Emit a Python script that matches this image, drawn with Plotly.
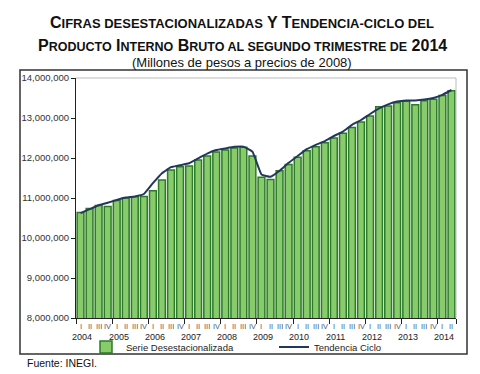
import plotly.graph_objects as go

years = ["2004", "2005", "2006", "2007", "2008", "2009", "2010", "2011", "2012", "2013", "2014"]
quarter_names = ["I", "II", "III", "IV"]
n_quarters = 42  # 2004 Q1 .. 2014 Q2

# Serie desestacionalizada (pesos de 2008)
serie = [
    10640000, 10740000, 10810000, 10790000,
    10940000, 11000000, 11030000, 11040000,
    11180000, 11450000, 11700000, 11780000,
    11800000, 11950000, 12050000, 12150000,
    12200000, 12250000, 12270000, 12050000,
    11520000, 11460000, 11680000, 11840000,
    12020000, 12180000, 12280000, 12380000,
    12500000, 12620000, 12760000, 12900000,
    13050000, 13280000, 13300000, 13380000,
    13420000, 13330000, 13430000, 13470000,
    13560000, 13680000,
]
# Tendencia-ciclo
tendencia = [
    10620000, 10720000, 10820000, 10880000,
    10950000, 11010000, 11040000, 11100000,
    11370000, 11620000, 11770000, 11820000,
    11870000, 11990000, 12110000, 12200000,
    12240000, 12280000, 12285000, 12160000,
    11590000, 11530000, 11680000, 11880000,
    12050000, 12220000, 12330000, 12420000,
    12550000, 12660000, 12830000, 12950000,
    13100000, 13240000, 13340000, 13410000,
    13440000, 13440000, 13460000, 13500000,
    13580000, 13700000,
]

x = list(range(n_quarters))
q_labels = [quarter_names[i % 4] for i in x]

fig = go.Figure()
fig.add_trace(go.Bar(
    x=x, y=serie, name="Serie Desestacionalizada",
    marker=dict(color="#88cb6a", line=dict(color="#2c7a2a", width=1.5)),
    legend="legend",
))
fig.add_trace(go.Scatter(
    x=x, y=tendencia, name="Tendencia Ciclo", mode="lines",
    line=dict(color="#22385a", width=2, shape="spline", smoothing=0.35),
    legend="legend2",
))

# plot area: x 76..456, y 78..318
L, R, T, B = 76, 456, 78, 318
W, H = R - L, B - T

def px(X):
    return (X - L) / W

def py(Y):
    return (B - Y) / H

FONT = "Arial, Liberation Sans"
ann = []
for i, q in zip(x, q_labels):
    ann.append(dict(x=i, y=py(326), xref="x", yref="paper", text=q, showarrow=False,
                    font=dict(size=7.5, color="#4a5a6a", family=FONT),
                    xanchor="center", yanchor="middle"))
for k, yr in enumerate(years):
    ann.append(dict(x=4 * k + 0.2, y=py(337), xref="x", yref="paper", text=yr, showarrow=False,
                    font=dict(size=9, color="#222222", family=FONT),
                    xanchor="center", yanchor="middle"))

sc1 = "<span style='font-size:13px'>"
sc2 = "<span style='font-size:12.5px'>"
line1 = ("C" + sc1 + "IFRAS DESESTACIONALIZADAS</span> Y T" + sc1 + "ENDENCIA-CICLO DEL</span>")
line2 = ("P" + sc2 + "RODUCTO</span> I" + sc2 + "NTERNO</span> B" + sc2 + "RUTO AL SEGUNDO TRIMESTRE DE</span> 2014")
ann.append(dict(x=px(242), y=py(23), xref="paper", yref="paper", text="<b>" + line1 + "</b>",
                showarrow=False, font=dict(size=16, color="#111111", family=FONT),
                xanchor="center", yanchor="middle"))
ann.append(dict(x=px(242), y=py(45), xref="paper", yref="paper", text="<b>" + line2 + "</b>",
                showarrow=False, font=dict(size=16, color="#111111", family=FONT),
                xanchor="center", yanchor="middle"))
ann.append(dict(x=px(242), y=py(62), xref="paper", yref="paper",
                text="(Millones de pesos a precios de 2008)",
                showarrow=False, font=dict(size=13, color="#111111", family=FONT),
                xanchor="center", yanchor="middle"))
ann.append(dict(x=px(25), y=py(363), xref="paper", yref="paper", text="Fuente: INEGI.",
                showarrow=False, font=dict(size=10.5, color="#111111", family=FONT),
                xanchor="left", yanchor="middle"))

shapes = [
    dict(type="rect", xref="paper", yref="paper", x0=px(20), x1=px(467), y0=py(354), y1=py(70),
         line=dict(color="#333333", width=1.5), layer="below"),
    dict(type="line", xref="paper", yref="paper", x0=0, x1=1, y0=1, y1=1,
         line=dict(color="#bbbbbb", width=1)),
    dict(type="line", xref="paper", yref="paper", x0=1, x1=1, y0=0, y1=1,
         line=dict(color="#bbbbbb", width=1)),
]

fig.update_layout(
    width=480, height=374,
    margin=dict(l=L, r=480 - R, t=T, b=374 - B, autoexpand=False),
    paper_bgcolor="white", plot_bgcolor="white",
    bargap=0.25,
    annotations=ann, shapes=shapes,
    font=dict(family=FONT, color="#222222"),
    legend=dict(orientation="h", x=px(86), y=py(347), xanchor="left", yanchor="middle",
                font=dict(size=9.5, color="#222222"), bgcolor="rgba(0,0,0,0)",
                itemwidth=30, tracegroupgap=0),
    legend2=dict(orientation="h", x=px(274), y=py(347), xanchor="left", yanchor="middle",
                 font=dict(size=9.5, color="#222222"), bgcolor="rgba(0,0,0,0)",
                 itemwidth=30),
    showlegend=True,
)
fig.update_xaxes(
    range=[-0.5, n_quarters - 0.5],
    tickvals=[4 * k - 0.5 for k in range(len(years))] + [n_quarters - 0.5],
    ticktext=[""] * (len(years) + 1),
    ticks="outside", ticklen=5, tickcolor="#222222", tickwidth=1,
    showline=True, linecolor="#222222", linewidth=1, showgrid=False, zeroline=False,
)
fig.update_yaxes(
    range=[8000000, 14000000], dtick=1000000, tickformat=",d",
    ticks="outside", ticklen=4, tickcolor="#222222",
    tickfont=dict(size=9.5, color="#333333"),
    showline=True, linecolor="#222222", linewidth=1, showgrid=False, zeroline=False,
)

fig.write_html("out.html", config={"displayModeBar": False},
               post_script="document.body.style.margin='0';document.body.style.overflow='hidden';")
